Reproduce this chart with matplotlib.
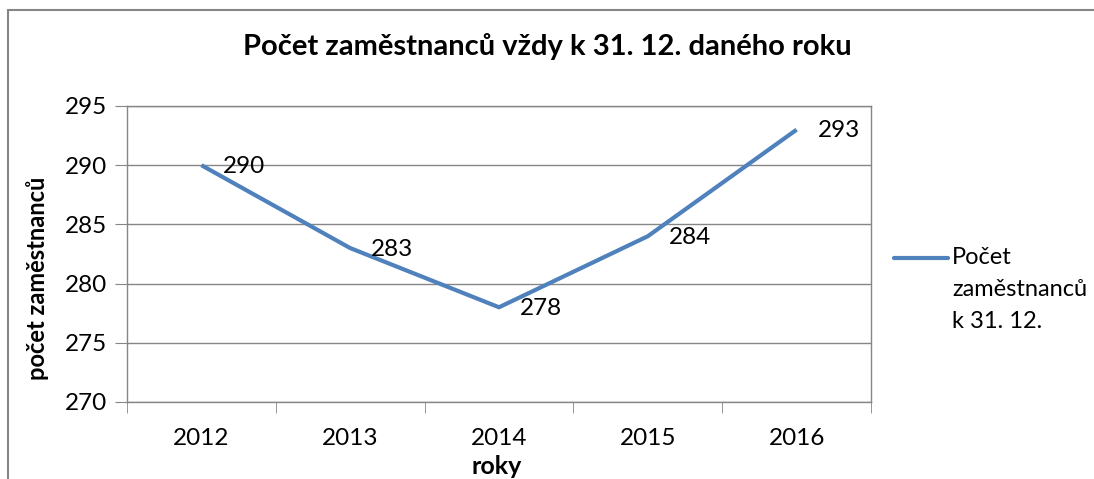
import matplotlib
matplotlib.use("Agg")
import matplotlib.pyplot as plt
from matplotlib.patches import Rectangle
from matplotlib.lines import Line2D

# data
years = ["2012", "2013", "2014", "2015", "2016"]
employees = [290, 283, 278, 284, 293]
y_ticks = [270, 275, 280, 285, 290, 295]
legend_lines = ["Počet", "zaměstnanců", "k 31. 12."]

plt.rcParams['font.family'] = ['Lato', 'DejaVu Sans']

W, H = 1094, 479
fig = plt.figure(figsize=(W / 100, H / 100), dpi=100)
fig.patch.set_facecolor("white")

gray = "#868686"
line_blue = "#4F81BD"

# outer chart frame, runs off the right and bottom edge
fig.patches.append(Rectangle((8 / W, -0.2), 1.2, 1 - 10 / H + 0.2,
                             transform=fig.transFigure, fill=False,
                             edgecolor=gray, linewidth=1.5))

ax = fig.add_axes([127 / W, 1 - 402 / H, (871 - 127) / W, (402 - 106) / H])

x = list(range(len(years)))
ax.plot(x, employees, color=line_blue, linewidth=3, solid_capstyle="butt", zorder=3)

for xi, v in zip(x, employees):
    ax.annotate(str(v), (xi, v), xytext=(21, -1), textcoords="offset pixels",
                ha="left", va="center", fontsize=17.5, color="black")

ax.set_xlim(-0.5, len(years) - 0.5)
ax.set_ylim(y_ticks[0], y_ticks[-1])
ax.set_yticks(y_ticks)
ax.set_yticklabels([str(t) for t in y_ticks], fontsize=17.5)
ax.set_xticks(x)
ax.set_xticklabels(years, fontsize=17.5)
ax.set_xticks([i - 0.5 for i in range(len(years) + 1)], minor=True)

ax.tick_params(axis="x", which="major", length=0, pad=19)
ax.tick_params(axis="x", which="minor", length=8, color=gray, direction="out")
ax.tick_params(axis="y", length=9, color=gray, direction="out", pad=5)

ax.grid(axis="y", color=gray, linewidth=1)
ax.set_axisbelow(True)
for s in ax.spines.values():
    s.set_color(gray)
    s.set_linewidth(1)

# axis titles, placed where Excel put them
fig.text(497 / W, 1 - 466 / H, "roky", ha="center", va="center",
         fontsize=18, fontweight="bold")
fig.text(38 / W, 1 - 278 / H, "počet zaměstnanců", ha="center", va="center",
         rotation=90, fontsize=17, fontweight="bold")

fig.text(0.5, 1 - 47 / H, "Počet zaměstnanců vždy k 31. 12. daného roku",
         ha="center", va="center", fontsize=21, fontweight="bold")

# legend drawn by hand to get Excel's layout
fig.lines.append(Line2D([894 / W, 948 / W], [1 - 258 / H, 1 - 258 / H],
                        transform=fig.transFigure, color=line_blue,
                        linewidth=3, solid_capstyle="round"))
for i, txt in enumerate(legend_lines):
    fig.text(952 / W, 1 - (258 + 32 * i) / H, txt, ha="left", va="center",
             fontsize=17)

fig.savefig("out.png", dpi=100, facecolor="white")
